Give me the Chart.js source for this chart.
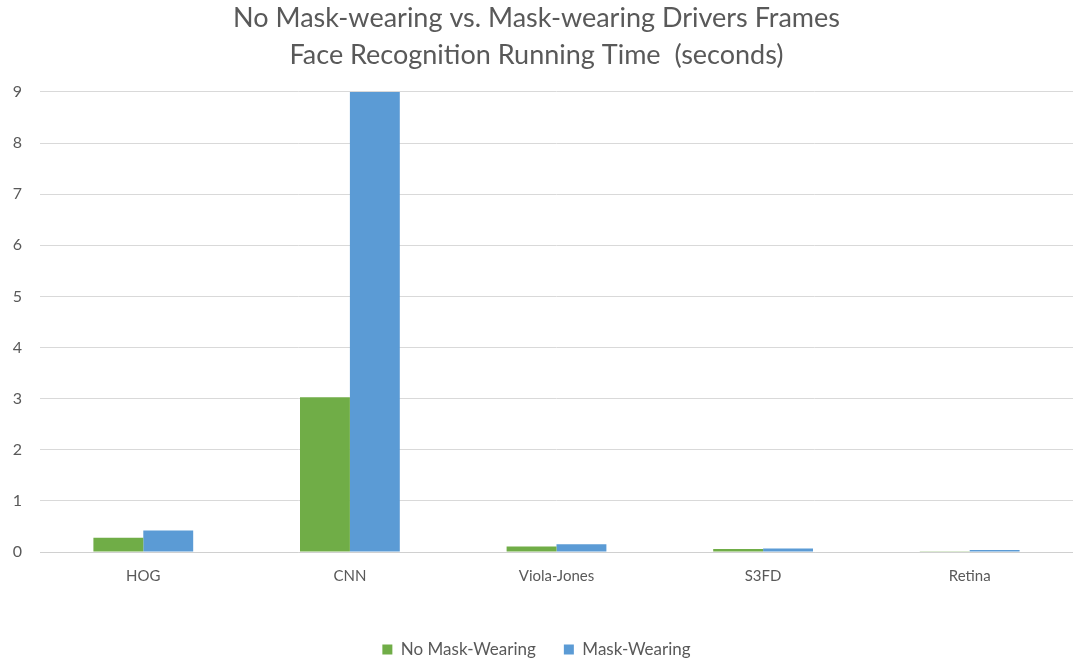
<!DOCTYPE html>
<html lang="en">

<head>
    <meta charset="UTF-8">
    <title>running time</title>
    <script src="https://cdn.jsdelivr.net/npm/chart.js"></script>
    <style>
        html,
        body {
            margin: 0;
            padding: 0;
            background: #ffffff;
            overflow: hidden;
        }

        .wrap {
            width: 1073px;
            height: 660px;
        }
    </style>
</head>

<body>
    <div class="wrap">
        <canvas id="myChart" width="1073" height="660"></canvas>
    </div>

    <script>
        const methods = ["HOG", "CNN", "Viola-Jones", "S3FD", "Retina"];
        const noMask = [0.28, 3.03, 0.11, 0.06, 0.005];
        const withMask = [0.42, 9.0, 0.15, 0.07, 0.04];
        const seriesNames = ["No Mask-Wearing", "Mask-Wearing"];
        const titleLines = [
            "No Mask-wearing vs. Mask-wearing Drivers Frames",
            "Face Recognition Running Time  (seconds)"
        ];

        const textColor = "#595959";
        const fontFamily = "Lato, 'Open Sans', sans-serif";

        new Chart("myChart", {
            type: "bar",
            data: {
                labels: methods,
                datasets: [{
                    label: seriesNames[0],
                    data: noMask,
                    backgroundColor: "#70ad47",
                    borderWidth: 0,
                }, {
                    label: seriesNames[1],
                    data: withMask,
                    backgroundColor: "#5b9bd5",
                    borderWidth: 0,
                }]
            },
            options: {
                responsive: false,
                animation: false,
                categoryPercentage: 0.483,
                barPercentage: 1.0,
                layout: {
                    // legend sits a little lower than chart.js would put it
                    padding: { top: 0, left: 0, right: 0, bottom: -8 }
                },
                scales: {
                    x: {
                        grid: { display: false, drawTicks: false },
                        border: { display: true, color: "#d0d0d0", width: 1 },
                        ticks: {
                            color: textColor,
                            padding: 15,
                            font: { family: fontFamily, size: 15 }
                        },
                        afterFit: (scale) => { scale.height = 61; }
                    },
                    y: {
                        min: 0,
                        max: 9,
                        grid: { color: "#d9d9d9", lineWidth: 1, drawTicks: false },
                        border: { display: false },
                        ticks: {
                            stepSize: 1,
                            color: textColor,
                            padding: 18,
                            font: { family: fontFamily, size: 16 }
                        },
                        afterFit: (scale) => { scale.width = 40; }
                    }
                },
                plugins: {
                    title: {
                        display: true,
                        text: titleLines,
                        color: textColor,
                        font: { family: fontFamily, size: 27, weight: "normal", lineHeight: 1.37 },
                        padding: { top: 0, bottom: 18 }
                    },
                    legend: {
                        position: "bottom",
                        labels: {
                            color: textColor,
                            boxWidth: 10,
                            boxHeight: 10,
                            padding: 28,
                            font: { family: fontFamily, size: 17 }
                        }
                    },
                    tooltip: { enabled: false }
                }
            }
        });
    </script>
</body>

</html>
